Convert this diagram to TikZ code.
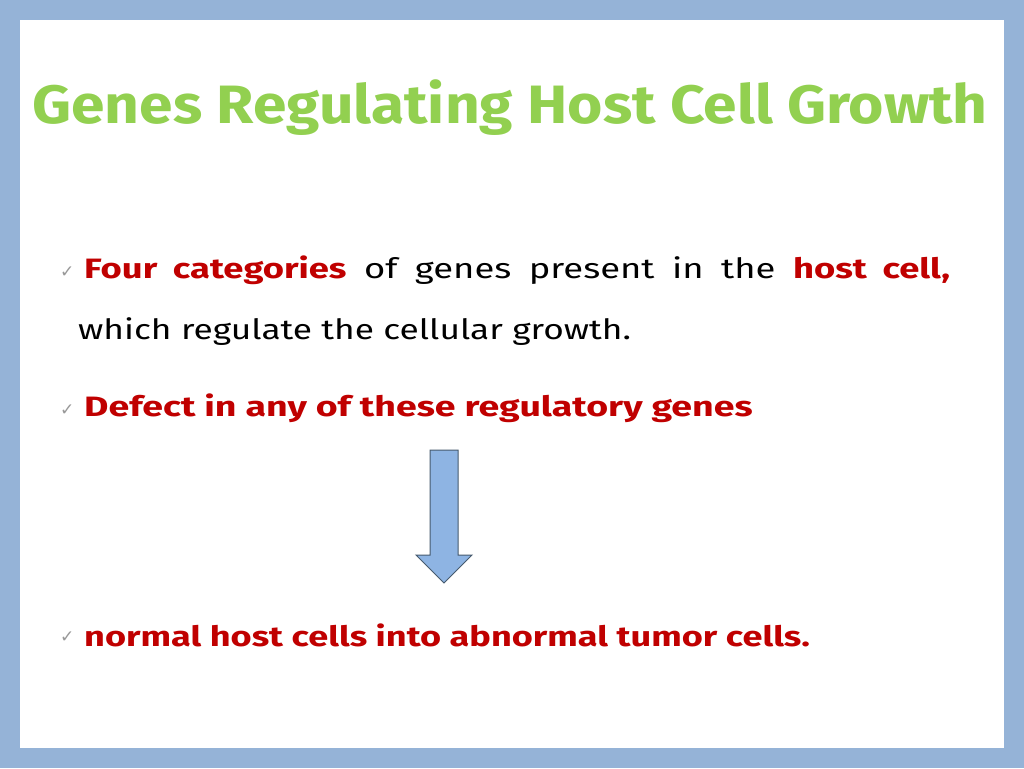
\documentclass[tikz,border=0pt]{standalone}
\usepackage{fontspec}
\setmainfont{Fira Sans}
\newfontfamily\sym{DejaVu Sans}
\definecolor{frame}{RGB}{149,179,215}
\definecolor{dred}{RGB}{192,0,0}
\definecolor{tgreen}{RGB}{146,208,80}
\begin{document}
\begin{tikzpicture}[x=1pt,y=-1pt,
  red/.style={text=dred,font=\bfseries\fontsize{28}{32}\selectfont},
  body/.style={anchor=west,inner sep=0pt},
  chk/.style={text=gray!80,font=\sym\fontsize{17}{19}\selectfont,anchor=west,inner sep=0pt}]
\useasboundingbox (0,0) rectangle (1024,768);
\fill[frame] (0,0) rectangle (1024,768);
\fill[white] (20,20) rectangle (1004,748);
\node[text=tgreen,font=\fontsize{54}{60}\selectfont\bfseries] (title) at (510,108) {\scalebox{1.12}[1]{Genes Regulating Host Cell Growth}};
\node[chk] (c1) at (60,272) {✓};
\node[body,font=\fontsize{28}{32}\selectfont] (l1) at (84,270) {\scalebox{1.3}[1]{\makebox[666pt][s]{\textcolor{dred}{\bfseries Four\ \ categories}\ \ of\ \ genes\ \ present\ \ in\ \ the\ \ \textcolor{dred}{\bfseries host\ \ cell,}}}};
\node[body,font=\fontsize{28}{32}\selectfont] (l2) at (78,332) {\scalebox{1.26}[1]{which regulate the cellular growth.}};
\node[chk] (c2) at (60,410) {✓};
\node[body,red] (l3) at (84,408) {\scalebox{1.34}[1]{Defect in any of these regulatory genes}};
\node[chk] (c3) at (60,637) {✓};
\node[body,red] (l4) at (84,635) {\scalebox{1.29}[1]{normal host cells into abnormal tumor cells.}};
\draw[draw={rgb,255:red,70;green,90;blue,110},line width=1pt,fill={rgb,255:red,142;green,180;blue,227}]
  (430,450) -- (458,450) -- (458,555) -- (472,555) -- (444,583) -- (416,555) -- (430,555) -- cycle;
\end{tikzpicture}
\end{document}
